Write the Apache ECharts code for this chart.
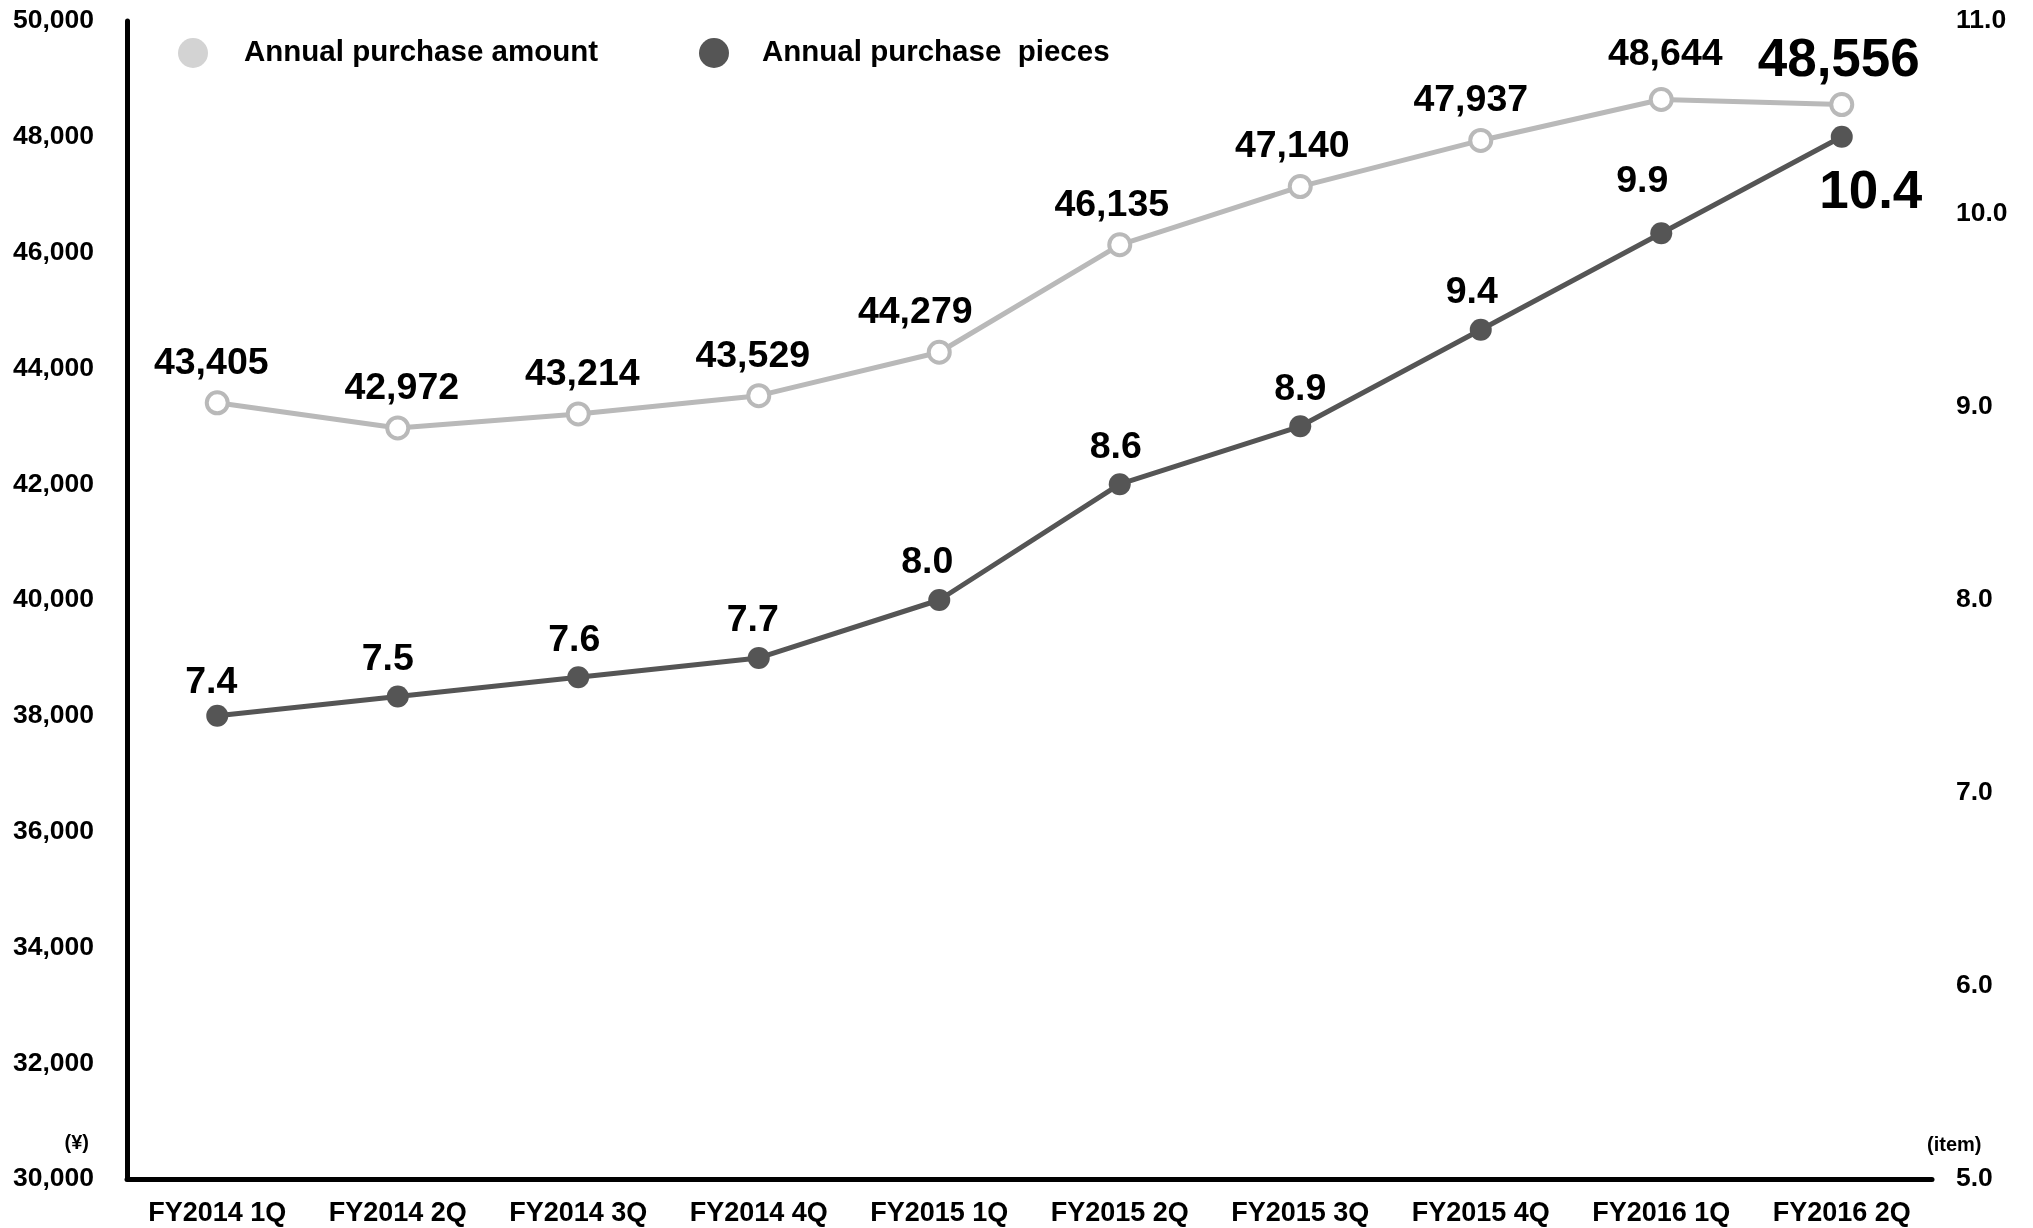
<!DOCTYPE html>
<html>
<head>
<meta charset="utf-8">
<title>Annual purchase amount / pieces</title>
<script src="https://cdn.jsdelivr.net/npm/echarts@6/dist/echarts.min.js"></script>
<style>
  html, body { margin: 0; padding: 0; background: #fff; }
  #chart { width: 2033px; height: 1228px; }
</style>
</head>
<body>
<div id="chart"></div>
<script>
// Quarterly figures
const categories = ['FY2014 1Q', 'FY2014 2Q', 'FY2014 3Q', 'FY2014 4Q', 'FY2015 1Q',
                    'FY2015 2Q', 'FY2015 3Q', 'FY2015 4Q', 'FY2016 1Q', 'FY2016 2Q'];
const purchaseAmount = [43405, 42972, 43214, 43529, 44279, 46135, 47140, 47937, 48644, 48556];
const purchasePieces = [7.4, 7.5, 7.6, 7.7, 8.0, 8.6, 8.9, 9.4, 9.9, 10.4];

// Axis scales
const amountAxis = { min: 30000, max: 50000, interval: 2000 };
const piecesAxis = { min: 5, max: 11, interval: 1 };

const FONT = '"Liberation Sans", Arial, Helvetica, sans-serif';
const AMOUNT_COLOR = '#b9b9b9';
const PIECES_COLOR = '#555555';

// small per-point label nudges so labels sit clear of the lines
const amountNudge = [[-6, 0], [4, 0], [4, 0], [-6, 0], [-24, 0], [-8, 0], [-8, 0], [-10, 0], [4, -5], [-3, 0]];
const piecesNudge = [[-6, 4], [-10, 0], [-4, 0], [-6, 0], [-12, 0], [-4, 0], [0, 0], [-9, 0], [-19, -15], [29, 0]];

const fmtAmount = v => v.toLocaleString('en-US');
const fmtPieces = v => v.toFixed(1);

const last = categories.length - 1;

const amountData = purchaseAmount.map((v, i) => {
  const item = { value: v, label: { offset: amountNudge[i] } };
  if (i === last) {
    item.label.fontSize = 53;
    item.label.distance = 4;
  }
  return item;
});

const piecesData = purchasePieces.map((v, i) => {
  const item = { value: v, label: { offset: piecesNudge[i] } };
  if (i === last) {
    item.label.fontSize = 53;
    item.label.position = 'bottom';
    item.label.distance = 19;
  }
  return item;
});

const chart = echarts.init(document.getElementById('chart'), null, { renderer: 'canvas' });

const legendText = { fontFamily: FONT, fontWeight: 'bold', fontSize: 29.5, color: '#000' };

chart.setOption({
  animation: false,
  backgroundColor: '#fff',
  textStyle: { fontFamily: FONT },
  grid: { left: 127, right: 101, top: 21, bottom: 49, containLabel: false },
  legend: [
    {
      left: 173, top: 33, itemWidth: 32, itemHeight: 30, icon: 'circle',
      data: [{ name: 'Annual purchase amount', itemStyle: { color: '#d3d3d3', borderWidth: 0 } }],
      textStyle: Object.assign({ padding: [0, 0, 0, 30] }, legendText),
      selectedMode: false
    },
    {
      left: 694, top: 33, itemWidth: 32, itemHeight: 30, icon: 'circle',
      data: [{ name: 'Annual purchase  pieces', itemStyle: { color: PIECES_COLOR, borderWidth: 0 } }],
      textStyle: Object.assign({ padding: [0, 0, 0, 27] }, legendText),
      selectedMode: false
    }
  ],
  xAxis: {
    type: 'category',
    data: categories,
    boundaryGap: true,
    axisLine: { show: true, lineStyle: { color: '#000', width: 5 } },
    axisTick: { show: false },
    axisLabel: { fontFamily: FONT, fontWeight: 'bold', fontSize: 27, color: '#000', margin: 21, interval: 0 },
    splitLine: { show: false }
  },
  yAxis: [
    {
      type: 'value',
      position: 'left',
      min: amountAxis.min, max: amountAxis.max, interval: amountAxis.interval,
      axisLine: { show: true, lineStyle: { color: '#000', width: 5 } },
      axisTick: { show: false },
      splitLine: { show: false },
      axisLabel: {
        fontFamily: FONT, fontWeight: 'bold', fontSize: 26.5, color: '#000', margin: 33,
        formatter: v => v.toLocaleString('en-US')
      }
    },
    {
      type: 'value',
      position: 'right',
      min: piecesAxis.min, max: piecesAxis.max, interval: piecesAxis.interval,
      axisLine: { show: false },
      axisTick: { show: false },
      splitLine: { show: false },
      axisLabel: {
        fontFamily: FONT, fontWeight: 'bold', fontSize: 26.5, color: '#000', margin: 24,
        formatter: v => v.toFixed(1)
      }
    }
  ],
  series: [
    {
      name: 'Annual purchase amount',
      type: 'line',
      yAxisIndex: 0,
      data: amountData,
      symbol: 'circle',
      symbolSize: 21,
      showSymbol: true,
      z: 3,
      lineStyle: { color: AMOUNT_COLOR, width: 5 },
      itemStyle: { color: '#fff', borderColor: AMOUNT_COLOR, borderWidth: 4 },
      label: {
        show: true, position: 'top', distance: 8,
        fontFamily: FONT, fontWeight: 'bold', fontSize: 37.5, color: '#000',
        formatter: p => fmtAmount(p.value)
      },
      emphasis: { disabled: true }
    },
    {
      name: 'Annual purchase  pieces',
      type: 'line',
      yAxisIndex: 1,
      data: piecesData,
      symbol: 'circle',
      symbolSize: 22,
      showSymbol: true,
      z: 4,
      lineStyle: { color: PIECES_COLOR, width: 5 },
      itemStyle: { color: PIECES_COLOR, borderWidth: 0 },
      label: {
        show: true, position: 'top', distance: 7,
        fontFamily: FONT, fontWeight: 'bold', fontSize: 37.5, color: '#000',
        formatter: p => fmtPieces(p.value)
      },
      emphasis: { disabled: true }
    }
  ],
  graphic: [
    {
      type: 'text', right: 2033 - 89, top: 1133,
      style: { text: '(¥)', fontFamily: FONT, fontWeight: 'bold', fontSize: 20, fill: '#000', textAlign: 'right' }
    },
    {
      type: 'text', left: 1927, top: 1135,
      style: { text: '(item)', fontFamily: FONT, fontWeight: 'bold', fontSize: 20, fill: '#000' }
    }
  ]
});
</script>
</body>
</html>
